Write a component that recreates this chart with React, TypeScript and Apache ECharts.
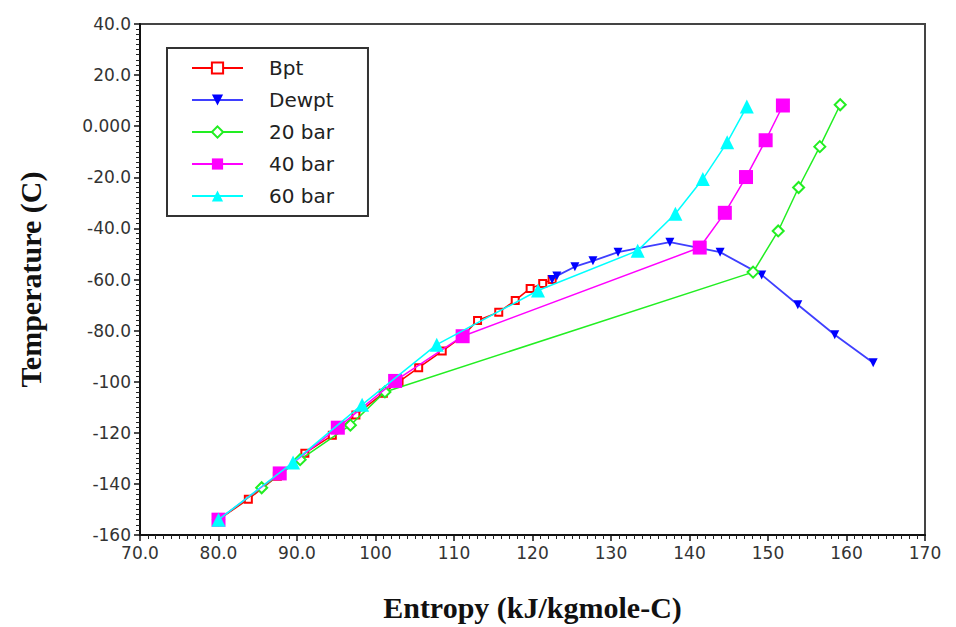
import React, { useEffect, useRef } from "react";
import * as echarts from "echarts";

const bptX = [80, 83.8, 87.5, 91, 94.5, 97.5, 101, 103, 105.5, 108.5, 111, 113, 115.7, 117.8, 119.7, 121.3, 122.5];
const bptY = [-154, -146, -137, -128, -121, -113, -104.5, -100, -94.5, -88, -82.5, -76, -72.8, -68.2, -63.5, -61.6, -60];

const dewX = [122.5, 123.1, 125.4, 127.7, 130.9, 137.5, 143.9, 149.2, 153.8, 158.5, 163.4];
const dewY = [-60, -58.6, -55, -52.7, -49.3, -45.4, -49.3, -58.2, -69.9, -81.6, -92.6];

const bar20X = [80, 85.5, 90.4, 96.8, 101.2, 148.1, 151.3, 153.9, 156.6, 159.2];
const bar20Y = [-154, -141.5, -130.5, -117, -104, -57.1, -41, -24, -8, 8.4];

const bar40X = [80, 87.8, 95.2, 102.5, 111.1, 141.3, 144.5, 147.2, 149.7, 151.9];
const bar40Y = [-154, -135.9, -118, -99.7, -82.2, -47.5, -33.9, -19.9, -5.5, 8.1];

const bar60X = [80, 89.5, 98.3, 107.8, 120.7, 133.4, 138.2, 141.7, 144.8, 147.3];
const bar60Y = [-154, -131.6, -109, -85.5, -64.3, -48.7, -34.3, -20.7, -6.3, 7.7];

const seriesNames = ["Bpt", "Dewpt", "20 bar", "40 bar", "60 bar"];

const xTickValues = [70, 80, 90, 100, 110, 120, 130, 140, 150, 160, 170];
const xTickLabels = ["70.0", "80.0", "90.0", "100", "110", "120", "130", "140", "150", "160", "170"];
const yTickValues = [40, 20, 0, -20, -40, -60, -80, -100, -120, -140, -160];
const yTickLabels = ["40.0", "20.0", "0.000", "-20.0", "-40.0", "-60.0", "-80.0", "-100", "-120", "-140", "-160"];

const zip = (xs: number[], ys: number[]) => xs.map((x, i) => [x, ys[i]]);

export default function App() {
  const ref = useRef<HTMLDivElement>(null);
  useEffect(() => {
    if (!ref.current) return;
    const chart = echarts.init(ref.current, undefined, { renderer: "svg" });
    const lbl = (vals: number[], labels: string[]) => (v: number) => {
      const i = vals.findIndex((t) => Math.abs(t - v) < 1e-6);
      return i >= 0 ? labels[i] : "";
    };
    const titleStyle = {
      fontFamily: "Liberation Serif, Times New Roman, serif",
      fontWeight: "bold",
      fontSize: 30,
      color: "#111",
    };
    const tickLabelStyle = {
      fontFamily: "DejaVu Sans, sans-serif",
      fontSize: 17,
      color: "#333",
    };
    chart.setOption({
      animation: false,
      backgroundColor: "#fff",
      grid: {
        left: 140,
        right: 31,
        top: 24,
        bottom: 89,
        show: true,
        borderColor: "#444",
        borderWidth: 2,
        backgroundColor: "transparent",
      },
      legend: {
        show: true,
        data: seriesNames,
        orient: "vertical",
        left: 167,
        top: 48,
        itemWidth: 51,
        itemHeight: 14,
        itemGap: 12,
        padding: [10, 34, 10, 24],
        borderColor: "#333",
        borderWidth: 2,
        backgroundColor: "#fff",
        textStyle: {
          fontFamily: "DejaVu Sans, sans-serif",
          fontSize: 20,
          color: "#222",
          padding: [0, 0, 0, 21],
        },
      },
      xAxis: {
        type: "value",
        min: 70,
        max: 170,
        interval: 10,
        axisLine: { show: true, onZero: false, lineStyle: { color: "#111", width: 2 } },
        axisTick: { show: true, inside: false, length: 6, lineStyle: { color: "#111", width: 1.5 } },
        minorTick: { show: true, splitNumber: 10, length: 4, lineStyle: { color: "#222", width: 1 } },
        splitLine: { show: false },
        minorSplitLine: { show: false },
        axisLabel: {
          formatter: lbl(xTickValues, xTickLabels),
          ...tickLabelStyle,
          margin: 9,
        },
        name: "Entropy (kJ/kgmole-C)",
        nameLocation: "middle",
        nameGap: 57,
        nameTextStyle: titleStyle,
      },
      yAxis: {
        type: "value",
        min: -160,
        max: 40,
        interval: 20,
        axisLine: { show: true, onZero: false, lineStyle: { color: "#111", width: 2 } },
        axisTick: { show: true, inside: false, length: 6, lineStyle: { color: "#111", width: 1.5 } },
        minorTick: { show: true, splitNumber: 10, length: 4, lineStyle: { color: "#222", width: 1 } },
        splitLine: { show: false },
        minorSplitLine: { show: false },
        axisLabel: {
          formatter: lbl(yTickValues, yTickLabels),
          ...tickLabelStyle,
          margin: 9,
        },
        name: "Temperature (C)",
        nameLocation: "middle",
        nameGap: 95,
        nameTextStyle: titleStyle,
      },
      series: [
        {
          name: seriesNames[0],
          type: "line",
          data: zip(bptX, bptY),
          symbol: "emptyRect",
          symbolSize: 7,
          itemStyle: { color: "#ff0000", borderWidth: 1.5 },
          lineStyle: { color: "#ff0000", width: 1.5 },
          z: 2,
        },
        {
          name: seriesNames[1],
          type: "line",
          data: zip(dewX, dewY),
          symbol: "triangle",
          symbolRotate: 180,
          symbolSize: 9,
          itemStyle: { color: "#0000ff" },
          lineStyle: { color: "#3f3fff", width: 1.8 },
          z: 3,
        },
        {
          name: seriesNames[2],
          type: "line",
          data: zip(bar20X, bar20Y),
          symbol: "emptyDiamond",
          symbolSize: 11,
          itemStyle: { color: "#22ee22", borderWidth: 1.5 },
          lineStyle: { color: "#22ee22", width: 1.5 },
          z: 4,
        },
        {
          name: seriesNames[3],
          type: "line",
          data: zip(bar40X, bar40Y),
          symbol: "rect",
          symbolSize: 14,
          itemStyle: { color: "#ff00ff" },
          lineStyle: { color: "#ff00ff", width: 1.5 },
          z: 5,
        },
        {
          name: seriesNames[4],
          type: "line",
          data: zip(bar60X, bar60Y),
          symbol: "triangle",
          symbolSize: 14,
          itemStyle: { color: "#00ffff" },
          lineStyle: { color: "#00ffff", width: 1.5 },
          z: 6,
        },
      ],
    });
    return () => chart.dispose();
  }, []);
  return <div ref={ref} style={{ width: 956, height: 627, position: "absolute", left: 0, top: 0 }} />;
}
